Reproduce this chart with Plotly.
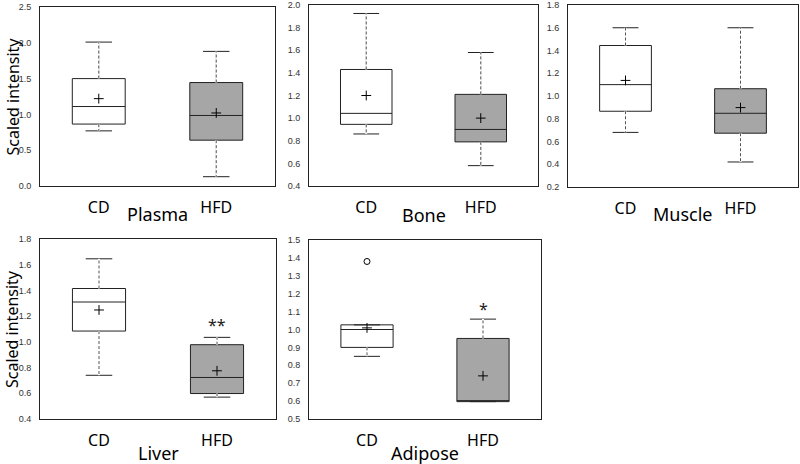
import plotly.graph_objects as go

# ---- data ----
tissues = ["Plasma", "Bone", "Muscle", "Liver", "Adipose"]
groups = ["CD", "HFD"]
lower_whisker = [[0.77, 0.13], [0.86, 0.58], [0.68, 0.42], [0.74, 0.57], [0.85, 0.597]]
q1 = [[0.865, 0.64], [0.945, 0.79], [0.866, 0.673], [1.084, 0.598], [0.90, 0.597]]
median = [[1.11, 0.985], [1.042, 0.90], [1.10, 0.848], [1.31, 0.723], [1.00, 0.597]]
q3 = [[1.50, 1.445], [1.43, 1.21], [1.444, 1.064], [1.415, 0.978], [1.026, 0.95]]
upper_whisker = [[2.01, 1.88], [1.925, 1.58], [1.60, 1.60], [1.646, 1.035], [1.026, 1.058]]
means = [[1.22, 1.02], [1.20, 1.00], [1.137, 0.898], [1.248, 0.775], [1.009, 0.741]]
outlier_tissue = ["Adipose"]
outlier_group = ["CD"]
outlier_value = [1.38]
significance = ["", "", "", "**", "*"]          # placed above HFD
significance_y = [None, None, None, 1.13, 1.115]
y_ranges = [[0, 2.5], [0.4, 2.0], [0.2, 1.8], [0.4, 1.8], [0.5, 1.5]]
y_dticks = [0.5, 0.2, 0.2, 0.2, 0.1]
y_title = "Scaled intensity"

# ---- layout geometry (pixels) ----
W, H = 800, 464
panels_px = [  # x0, x1, ytop, ybottom
    (40, 275, 7, 186),
    (309, 538, 5, 186),
    (568, 798, 5, 187),
    (40, 276, 239, 419),
    (309, 541, 240, 419),
]
title_y_px = [214, 215, 214, 453, 453]
fill_colors = ["#ffffff", "#a6a6a6"]
line_color = "#222222"

fig = go.Figure()
layout = dict(
    template="none",
    width=W, height=H, margin=dict(l=0, r=0, t=0, b=0, autoexpand=False),
    paper_bgcolor="white", plot_bgcolor="white", showlegend=False,
    annotations=[],
)

for i, tissue in enumerate(tissues):
    n = "" if i == 0 else str(i + 1)
    xa, ya = "x" + n, "y" + n
    x0, x1, yt, yb = panels_px[i]
    for j, g in enumerate(groups):
        fig.add_trace(go.Box(
            x=[g], q1=[q1[i][j]], median=[median[i][j]], q3=[q3[i][j]],
            lowerfence=[lower_whisker[i][j]], upperfence=[upper_whisker[i][j]],
            fillcolor=fill_colors[j], line=dict(color=line_color, width=1),
            width=0.45, whiskerwidth=0.5, boxpoints=False,
            hoverinfo="skip", xaxis=xa, yaxis=ya,
        ))
    for j, g in enumerate(groups):
        wx = [g, g, None, g, g]
        wy = [q3[i][j], upper_whisker[i][j], None, q1[i][j], lower_whisker[i][j]]
        if upper_whisker[i][j] > q3[i][j] or lower_whisker[i][j] < q1[i][j]:
            fig.add_trace(go.Scatter(x=wx, y=wy, mode="lines",
                                     line=dict(color="white", width=2),
                                     hoverinfo="skip", xaxis=xa, yaxis=ya))
            fig.add_trace(go.Scatter(x=wx, y=wy, mode="lines",
                                     line=dict(color="#555555", width=1, dash="3px,2px"),
                                     hoverinfo="skip", xaxis=xa, yaxis=ya))
    fig.add_trace(go.Scatter(
        x=groups, y=means[i], mode="markers",
        marker=dict(symbol="cross-thin", size=7, line=dict(color="black", width=1)),
        hoverinfo="skip", xaxis=xa, yaxis=ya))
    for k, t in enumerate(outlier_tissue):
        if t == tissue:
            fig.add_trace(go.Scatter(
                x=[outlier_group[k]], y=[outlier_value[k]], mode="markers",
                marker=dict(symbol="circle-open", size=6, color="black",
                            line=dict(width=1)),
                hoverinfo="skip", xaxis=xa, yaxis=ya))
    if significance[i]:
        layout["annotations"].append(dict(
            x="HFD", y=significance_y[i], xref=xa, yref=ya, text=significance[i],
            showarrow=False, font=dict(family="Noto Sans", size=16, color="#222")))

    lo, hi = y_ranges[i]
    nticks = int(round((hi - lo) / y_dticks[i]))
    tickvals = [round(lo + k * y_dticks[i], 6) for k in range(nticks + 1)]

    axis_common = dict(showline=True, mirror=True, linecolor=line_color, linewidth=1,
                       showgrid=False, zeroline=False, automargin=False)
    layout["xaxis" + n] = dict(
        axis_common, domain=[x0 / W, x1 / W], anchor=ya, type="category",
        range=[-0.5, 1.5], ticks="outside", ticklen=7, tickcolor="rgba(0,0,0,0)",
        tickfont=dict(family="Noto Sans", size=16, color="black"),
        categoryorder="array", categoryarray=groups)
    layout["yaxis" + n] = dict(
        axis_common, domain=[1 - yb / H, 1 - yt / H], anchor=xa,
        range=[lo - 1e-9, hi + 1e-9], tickmode="array", tickvals=tickvals,
        ticktext=[f"{v:.1f}" for v in tickvals], ticklabeloverflow="allow",
        ticks="outside", ticklen=6, tickcolor="rgba(0,0,0,0)",
        tickfont=dict(family="Liberation Sans", size=9, color="#333"))
    layout["annotations"].append(dict(
        x=(x0 + x1) / 2 / W, y=1 - title_y_px[i] / H, xref="paper", yref="paper",
        text=tissue, showarrow=False, xanchor="center", yanchor="middle",
        font=dict(family="Noto Sans", size=18, color="black")))
    if x0 < 100:
        layout["annotations"].append(dict(
            x=0, y=1 - (yt + yb) / 2 / H, xref="paper", yref="paper",
            text=y_title, textangle=-90, showarrow=False,
            xanchor="left", yanchor="middle", borderpad=0,
            font=dict(family="Noto Sans", size=16, color="black")))

fig.update_layout(**layout)
fig.write_html("out.html", config={"displayModeBar": False},
               post_script="document.body.style.margin='0';document.body.style.overflow='hidden';")
